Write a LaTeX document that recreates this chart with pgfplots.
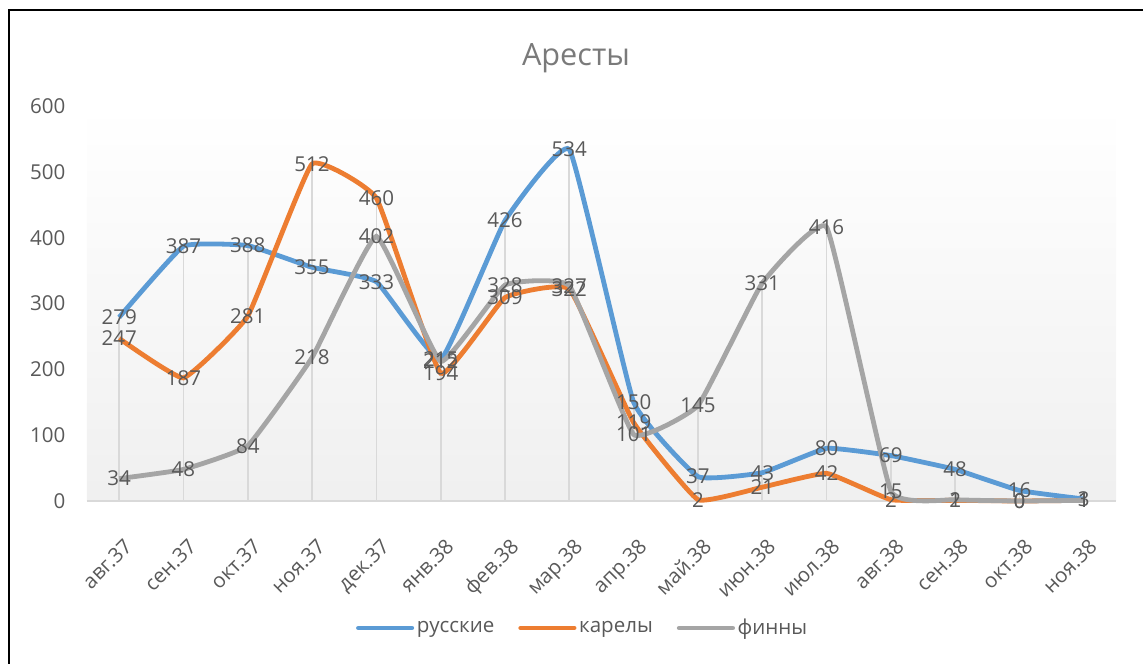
\documentclass[border=0pt]{standalone}
\usepackage{fontspec}
\setmainfont{Open Sans}
\usepackage{pgfplots}
\pgfplotsset{compat=1.18}
\definecolor{cblue}{HTML}{5B9BD5}
\definecolor{corange}{HTML}{ED7D31}
\definecolor{cgray}{HTML}{A5A5A5}
\definecolor{txt}{HTML}{595959}
\definecolor{gridc}{HTML}{D9D9D9}
\definecolor{ttl}{HTML}{7A7A7A}
\begin{document}
\begin{tikzpicture}[x=0.75pt,y=0.75pt]
\path[use as bounding box] (0,0) rectangle (1143,664);
\draw[black, line width=2.2pt] (9,0) -- (9,654) -- (1143,654);
\node[text=ttl, font=\fontsize{23}{27}\selectfont] at (576,606) {Аресты};
\begin{axis}[
  at={(65.25pt,122.25pt)}, anchor=south west,
  scale only axis, width=771.75pt, height=296.25pt,
  xmin=-0.5, xmax=15.5, ymin=0, ymax=600,
  ytick={0,100,...,600},
  xtick={0,...,15},
  xticklabels={авг.37,сен.37,окт.37,ноя.37,дек.37,янв.38,фев.38,мар.38,апр.38,май.38,июн.38,июл.38,авг.38,сен.38,окт.38,ноя.38},
  /pgf/number format/assume math mode=true,
  axis line style={draw=none},
  major tick length=0pt,
  tick style={draw=none},
  ticklabel style={text=txt, font=\fontsize{15.4}{18}\selectfont},
  yticklabel style={xshift=-12.75pt},
  xticklabel style={rotate=45, anchor=north east, inner sep=0pt, xshift=-17pt, yshift=-21pt},
  axis background/.style={shade, top color=white, bottom color=black!6},
  clip=false,
  legend columns=3,
  legend style={at={(0.482,-0.3215)}, anchor=center, draw=none, fill=none,
    font=\fontsize{15.4}{18}\selectfont, text=txt,
    /tikz/every even column/.append style={column sep=16pt}},
  legend image code/.code={\draw[#1, line cap=round] (0pt,0pt) -- (40pt,0pt);},
  nodes near coords,
  every node near coord/.append style={anchor=center, text=txt, font=\fontsize{15.4}{18}\selectfont},
]
\addplot[ycomb, draw=gridc, line width=1.3pt, forget plot, nodes near coords={}] coordinates {
(0,279)(1,387)(2,388)(3,512)(4,460)(5,215)(6,426)(7,534)(8,150)(9,145)(10,331)(11,416)(12,69)(13,48)(14,16)(15,3)};
\draw[gridc, line width=1.2pt] (axis cs:-0.5,0) -- (axis cs:15.5,0);
\addplot[cblue, line width=3.6pt, smooth, tension=0.2] coordinates {
(0,279)(1,387)(2,388)(3,355)(4,333)(5,215)(6,426)(7,534)(8,150)(9,37)(10,43)(11,80)(12,69)(13,48)(14,16)(15,3)};
\addlegendentry{русские}
\addplot[corange, line width=3.6pt, smooth, tension=0.2] coordinates {
(0,247)(1,187)(2,281)(3,512)(4,460)(5,194)(6,309)(7,322)(8,119)(9,2)(10,21)(11,42)(12,2)(13,1)(14,0)(15,1)};
\addlegendentry{карелы}
\addplot[cgray, line width=3.6pt, smooth, tension=0.2] coordinates {
(0,34)(1,48)(2,84)(3,218)(4,402)(5,212)(6,328)(7,327)(8,101)(9,145)(10,331)(11,416)(12,15)(13,2)(14,0)(15,1)};
\addlegendentry{финны}
\end{axis}
\end{tikzpicture}
\end{document}
